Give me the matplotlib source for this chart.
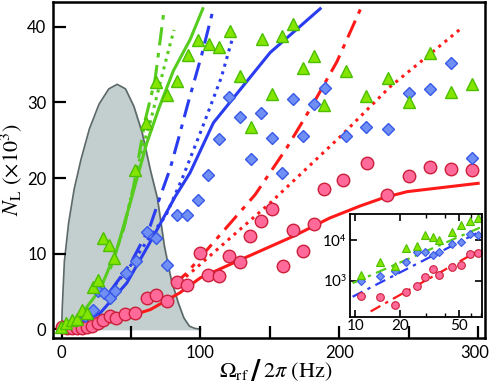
import numpy as np
import matplotlib.pyplot as plt
from matplotlib.transforms import ScaledTranslation

plt.rcParams['font.family'] = ['Lato', 'DejaVu Sans']
plt.rcParams['mathtext.fontset'] = 'stix'

# --- grey distribution (background) ---
dist_x = [0, 0.5, 2, 5, 9, 14, 20, 27, 34, 40, 46, 52, 58, 64, 69, 74, 79, 84, 88, 92, 96, 100]
dist_y = [0, 3, 9, 14, 18.5, 22.5, 26.5, 29.8, 31.8, 32.4, 31.8, 29.5, 26, 21, 17.3, 11, 6.5, 3.5, 1.5, 0.4, 0.1, 0]

# --- measured points ---
red_x = [0, 3.6, 7.4, 10.8, 14.4, 18, 21.6, 26.4, 30, 34.8, 38.9, 45.6, 52.8, 61.3, 68, 75.7,
         83.3, 90.6, 99.7, 105.7, 113.6, 120.8, 128.6, 135.8, 143.7, 151.4, 159.3, 167, 174.2,
         181.9, 189, 203, 219.9, 234.3, 249.9, 265.3, 280.5, 295.6]
red_y = [0.3, 0.2, 0.1, 0.2, 0.2, 0.3, 0.4, 0.8, 1.2, 1.7, 1.5, 2.0, 2.2, 4.1, 4.5, 3.7,
         6.3, 5.9, 10.1, 7.2, 7.0, 9.7, 8.9, 12.3, 14.3, 15.9, 8.3, 13.1, 10.4,
         13.9, 18.5, 19.8, 22.0, 17.8, 20.3, 21.4, 21.2, 21.1]

blue_x = [16.8, 22.4, 26.4, 30.5, 34.8, 38.4, 46.4, 53.6, 61.3, 68, 75.7, 82.9, 90.1, 98.5,
          105.7, 113.4, 120.8, 128.6, 136.3, 143.7, 151.4, 159, 166.5, 174.2, 181.9, 189.8,
          204.5, 219.4, 235, 250.2, 265, 280.5, 295.6]
blue_y = [1.7, 2.6, 5.0, 4.8, 4.1, 5.0, 7.4, 9.0, 12.9, 12.1, 8.5, 15.1, 15.1, 17.1,
          20.4, 25.1, 30.7, 28.1, 22.5, 28.6, 25.3, 20.6, 30.5, 25.6, 29.8, 31.9,
          25.5, 26.8, 26.5, 31.3, 31.8, 35.2, 22.7]

green_x = [-0.7, 3.1, 7.2, 11.2, 14.4, 18, 22.4, 26.4, 30, 34.3, 37.7, 52.8, 60.6, 68, 75.7,
           82.9, 91.3, 98.5, 106.2, 113.4, 121.3, 128.6, 136.3, 144.2, 151.4, 159, 167, 174.2,
           181.9, 189.3, 204.5, 219.4, 235, 250.2, 265, 280.5, 295.6]
green_y = [0.3, 0.8, 1.2, 1.3, 2.6, 2.1, 5.6, 6.5, 12.1, 11.2, 9.4, 21, 27.3, 32.7, 31,
           32.9, 36.3, 38.3, 37.7, 37.3, 39.4, 33.5, 26.8, 38.4, 31.1, 38.8, 40.4, 34.6,
           36.1, 29.6, 34.1, 30.9, 33.2, 30.1, 36.6, 31.4, 32.5]

# --- model curves ---
gs_x = [0, 13, 27.6, 39.7, 50, 61.3, 70, 80.5, 92.5, 101.7]
gs_y = [0, 1.7, 5.2, 10.5, 17.1, 24.6, 29.2, 34.2, 38.3, 42.4]
gdd_x = [35, 45, 52, 56.4, 60, 67.3, 74]
gdd_y = [8, 13.5, 19, 23.7, 27.5, 33, 42.5]
gdt_x = [35, 45, 52, 57.7, 63.7, 71, 78, 81]
gdt_y = [8, 13.5, 19, 23.7, 27.3, 32.6, 37.6, 39.6]

bs_x = [12, 27.6, 46.9, 63.7, 82, 92.5, 109.3, 128.6, 150.2, 186.2]
bs_y = [0.7, 2.1, 6.1, 11.5, 17.6, 20.7, 27.3, 31.7, 36.6, 42.4]
bdd_x = [35, 50, 63.7, 70.9, 78.1, 84, 91.2, 100.9, 109.3]
bdd_y = [5, 8.8, 13.6, 17.5, 21.2, 25.1, 30, 36.3, 42.4]
bdt_x = [35, 50, 62, 75, 87, 101, 115, 121.5, 125]
bdt_y = [5, 8.5, 11.8, 15, 20, 26.5, 33.3, 37.5, 39.6]

rs_x = [0, 20, 40, 64, 85, 100, 129, 167, 193, 215, 232, 249, 300]
rs_y = [0, 0.3, 1.2, 2.6, 4.8, 6.8, 9.2, 12.3, 14.7, 16.3, 17.4, 18.2, 19.3]
rdd_x = [80, 90, 139.4, 162.2, 180.2, 198.3, 215.6]
rdd_y = [5.8, 7.4, 17.8, 24, 29.5, 35.4, 42.5]
rdt_x = [85, 91.3, 150.2, 200.8, 236.7, 260.7, 288.4]
rdt_y = [6.3, 7.2, 16.7, 25.5, 32.1, 35.7, 39.9]

# --- inset (log-log) ---
in_x = [11, 14.7, 18.4, 22, 26, 29.5, 33.5, 36.8, 44.6, 51.5, 59.5, 67.3]
in_green = [1380, 2830, 2340, 6250, 7120, 13300, 12000, 10000, 16000, 23400, 29800, 34100]
in_blue = [1000, 1300, 1730, 2930, 5160, 5160, 4280, 5160, 7830, 9080, 13800, 13300]
in_red = [427, 405, 253, 537, 741, 1210, 1940, 1380, 2210, 2430, 4530, 4880]
inl_g_x, inl_g_y = [9.6, 71], [863, 21000]
inl_b_x, inl_b_y = [9.6, 71], [400, 17000]
inl_r_x, inl_r_y = [12.7, 71], [174, 6000]

GREEN_L, GREEN_F, GREEN_E = '#55cc1e', '#84e600', '#4cbf00'
BLUE_L, BLUE_F, BLUE_E = '#2a3cf0', '#6f8ff5', '#3858e8'
RED_L, RED_F, RED_E = '#ff1a1a', '#ff6a9a', '#cc1f3a'

fig = plt.figure(figsize=(4.9, 3.87), dpi=100)
ax = fig.add_axes([0.109, 0.126, 0.881, 0.869])

ax.fill_between(dist_x, dist_y, color='#c3cece', zorder=1)
ax.plot(dist_x, dist_y, color='#5d6969', lw=1.2, zorder=1)

lw = 2.2
dd = (6, 2.5, 1.5, 2.5)
dt = (1, 1.6)
ax.plot(gs_x, gs_y, color=GREEN_L, lw=lw, zorder=2)
ax.plot(gdd_x, gdd_y, color=GREEN_L, lw=lw, dashes=dd, zorder=2)
ax.plot(gdt_x, gdt_y, color=GREEN_L, lw=lw, dashes=dt, zorder=2)
ax.plot(bs_x, bs_y, color=BLUE_L, lw=lw, zorder=2)
ax.plot(bdd_x, bdd_y, color=BLUE_L, lw=lw, dashes=dd, zorder=2)
ax.plot(bdt_x, bdt_y, color=BLUE_L, lw=lw, dashes=dt, zorder=2)
ax.plot(rs_x, rs_y, color=RED_L, lw=lw, zorder=2)
ax.plot(rdd_x, rdd_y, color=RED_L, lw=lw, dashes=dd, zorder=2)
ax.plot(rdt_x, rdt_y, color=RED_L, lw=lw, dashes=dt, zorder=2)

ax.plot(red_x, red_y, 'o', ms=9, mfc=RED_F, mec=RED_E, mew=1, zorder=3)
ax.plot(blue_x, blue_y, 'D', ms=6.5, mfc=BLUE_F, mec=BLUE_E, mew=1, zorder=4)
ax.plot(green_x, green_y, '^', ms=8.5, mfc=GREEN_F, mec=GREEN_E, mew=1, zorder=5)

ax.set_xlim(-5.9, 305)
ax.set_ylim(-1.2, 43.3)
ax.set_xticks([0, 50, 100, 150, 200, 250, 300])
ax.set_xticklabels(['0', '', '100', '', '200', '', '300'])
ax.set_yticks([0, 10, 20, 30, 40])
ax.tick_params(direction='in', length=9, width=1.6, labelsize=12, pad=5)
for s in ax.spines.values():
    s.set_linewidth(1.8)
# keep "300" inside the canvas
last = ax.get_xticklabels()[-1]
last.set_transform(last.get_transform() + ScaledTranslation(-3 / 100, 0, fig.dpi_scale_trans))

# x label in pieces so the slash can be heavy
fig.text(219 / 490, 1 - 377 / 387, r'$\Omega_{\mathrm{rf}}$', fontsize=16, family='STIXGeneral',
         ha='left', va='baseline')
fig.text(251 / 490, 1 - 379 / 387, '/', fontsize=19, family='DejaVu Sans', weight='heavy',
         ha='left', va='baseline')
fig.text(263 / 490, 1 - 377 / 387, r'$2\pi$ (Hz)', fontsize=16, family='STIXGeneral',
         ha='left', va='baseline')
ax.set_ylabel(r'$N_{\mathrm{L}}$ $(\times10^3)$', fontsize=16, family='STIXGeneral', labelpad=2)

# inset
ins = fig.add_axes([0.714, 0.182, 0.269, 0.265])
ins.set_xscale('log')
ins.set_yscale('log')
ins.plot(inl_g_x, inl_g_y, color=GREEN_L, lw=1.6, dashes=(5, 2.5, 1.5, 2.5))
ins.plot(inl_b_x, inl_b_y, color=BLUE_L, lw=1.6, dashes=(5, 2.5, 1.5, 2.5))
ins.plot(inl_r_x, inl_r_y, color=RED_L, lw=1.6, dashes=(5, 2.5, 1.5, 2.5))
ins.plot(in_x, in_red, 'o', ms=5.5, mfc=RED_F, mec=RED_E, mew=0.8)
ins.plot(in_x, in_blue, 'D', ms=4.5, mfc=BLUE_F, mec=BLUE_E, mew=0.8)
ins.plot(in_x, in_green, '^', ms=6, mfc=GREEN_F, mec=GREEN_E, mew=0.8)
ins.set_xlim(9.2, 71)
ins.set_ylim(130, 43600)
ins.set_xticks([10, 20, 50])
ins.set_xticklabels(['10', '20', '50'])
ins.set_xticks([30, 40, 60, 70], minor=True)
ins.set_xticklabels([], minor=True)
ins.set_yticks([1e3, 1e4])
ins.set_yticklabels([r'10$^{\mathsf{3}}$', r'10$^{\mathsf{4}}$'])
ins.set_yticks([], minor=True)
ins.tick_params(which='both', direction='in', labelsize=11, pad=2, top=True, right=True)
ins.tick_params(which='major', length=5, width=1.2)
ins.tick_params(which='minor', length=3, width=1)
for s in ins.spines.values():
    s.set_linewidth(1.3)

fig.savefig('out.png', dpi=100)
